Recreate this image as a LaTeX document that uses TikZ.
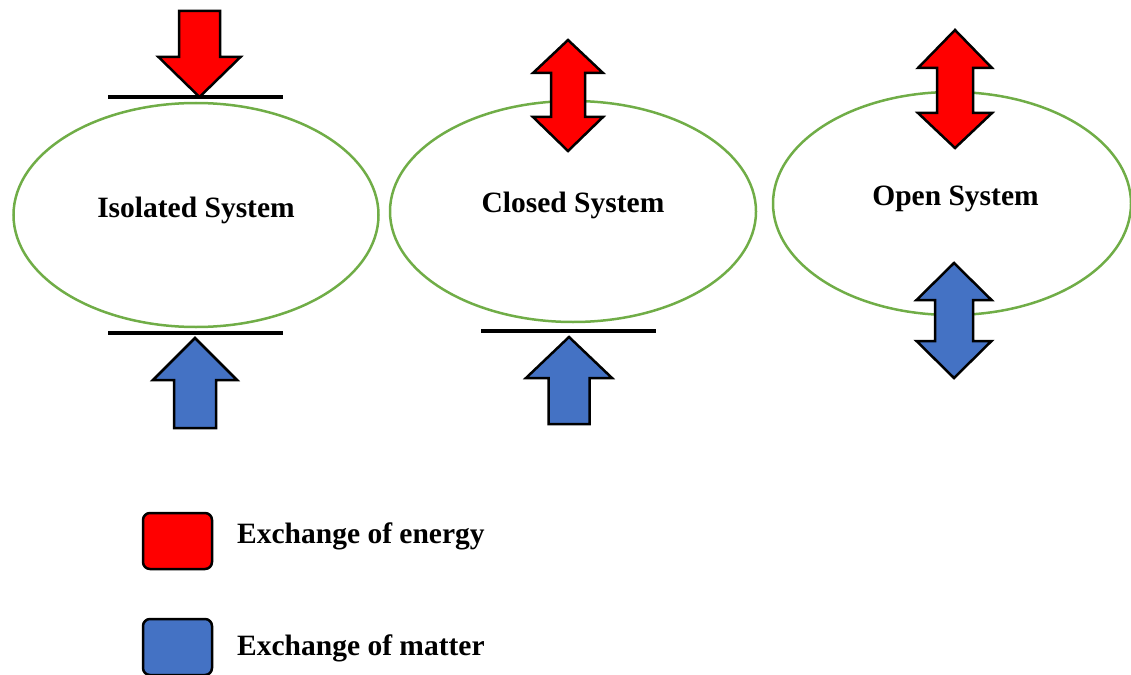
\documentclass[tikz,border=0pt]{standalone}
\usepackage{fontspec}
\setmainfont{Liberation Serif}
\usetikzlibrary{shapes.geometric}

\definecolor{energyred}{HTML}{FF0000}
\definecolor{matterblue}{HTML}{4472C4}
\definecolor{sysgreen}{HTML}{70AD47}

% Single block arrow: style, centre x, tip y, head-base y, tail y, head half-width, shaft half-width
\newcommand{\blockarrow}[7]{%
  \draw[#1] (#2,#3) -- ({#2+#6},#4) -- ({#2+#7},#4) -- ({#2+#7},#5)
    -- ({#2-#7},#5) -- ({#2-#7},#4) -- ({#2-#6},#4) -- cycle;}
% Double block arrow: style, centre x, top tip y, upper head-base y, lower head-base y,
% bottom tip y, head half-width, shaft half-width
\newcommand{\twowayarrow}[8]{%
  \draw[#1] (#2,#3) -- ({#2+#7},#4) -- ({#2+#8},#4) -- ({#2+#8},#5) -- ({#2+#7},#5)
    -- (#2,#6) -- ({#2-#7},#5) -- ({#2-#8},#5) -- ({#2-#8},#4) -- ({#2-#7},#4) -- cycle;}

\tikzset{
  sysellipse/.style={ellipse, draw=sysgreen, line width=2.5pt, inner sep=0pt, outer sep=0pt},
  blockbase/.style={draw=black, line width=2.5pt, line join=miter},
  energy/.style={blockbase, fill=energyred},
  matter/.style={blockbase, fill=matterblue},
  wall/.style={draw=black, line width=3.5pt},
  bigtext/.style={font=\bfseries\fontsize{29.5}{34}\selectfont, inner sep=0pt, anchor=base},
  legendbox/.style={draw=black, line width=2.5pt, rounded corners=7pt, minimum width=69pt, minimum height=56pt, inner sep=0pt},
}

\begin{document}
\begin{tikzpicture}[x=1pt,y=-1pt]
\useasboundingbox (0,0) rectangle (1131,674);

% systems
\node[sysellipse, minimum width=365pt, minimum height=224pt] (iso) at (196,215) {};
\node[sysellipse, minimum width=366pt, minimum height=221pt] (closed) at (573,211.5) {};
\node[sysellipse, minimum width=358pt, minimum height=223pt] (open) at (952,203.5) {};

\node[bigtext] (isoText) at (196,217) {Isolated System};
\node[bigtext] (closedText) at (573,212) {Closed System};
\node[bigtext] (openText) at (955.5,205) {Open System};

% isolated system: walls block both exchanges
\blockarrow{energy}{199.5}{97}{57}{11}{41}{20.5}
\blockarrow{matter}{195}{338}{380}{428}{42}{21}
\coordinate (isoTopL) at (108,97);
\coordinate (isoTopR) at (283,97);
\coordinate (isoBotL) at (108,333);
\coordinate (isoBotR) at (283,333);
\draw[wall] (isoTopL) -- (isoTopR);
\draw[wall] (isoBotL) -- (isoBotR);

% closed system: energy passes, matter is blocked
\twowayarrow{energy}{568}{40}{73}{117}{151}{35}{17}
\blockarrow{matter}{569}{337}{378}{424}{43}{20.5}
\coordinate (closedBotL) at (481,331);
\coordinate (closedBotR) at (656,331);
\draw[wall] (closedBotL) -- (closedBotR);

% open system: both pass
\twowayarrow{energy}{955}{30}{68}{113}{148}{37}{18}
\twowayarrow{matter}{954}{263}{300}{341}{378}{37.5}{19}

% legend
\node[legendbox, fill=energyred] (keyEnergy) at (177.5,541) {};
\node[legendbox, fill=matterblue] (keyMatter) at (177.5,647) {};
\node[bigtext, anchor=base west] (keyEnergyText) at (237,543) {Exchange of energy};
\node[bigtext, anchor=base west] (keyMatterText) at (237,655) {Exchange of matter};
\end{tikzpicture}
\end{document}
